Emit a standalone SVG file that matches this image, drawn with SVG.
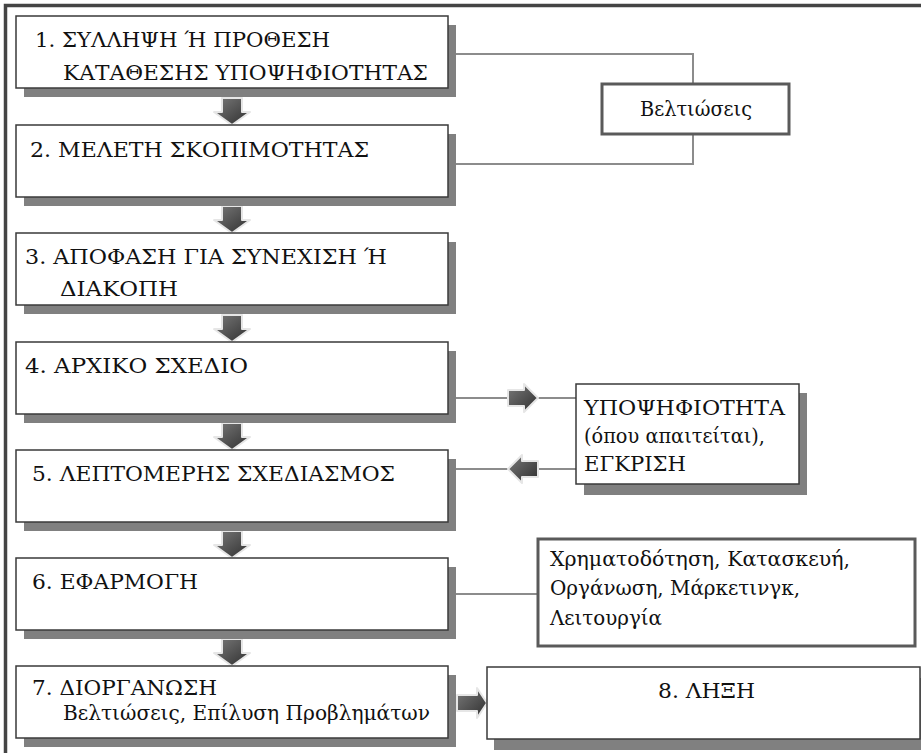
<svg xmlns="http://www.w3.org/2000/svg" width="921" height="753" viewBox="0 0 921 753">
<defs>
<linearGradient id="gv" x1="0" y1="0" x2="1" y2="1">
<stop offset="0" stop-color="#7a7a7a"/>
<stop offset="1" stop-color="#2e2e2e"/>
</linearGradient>
<style>
text{font-family:'DejaVu Serif','Liberation Serif','Times New Roman',serif;font-size:21px;fill:#111}
.box{fill:#fff;stroke:#3a3a3a;stroke-width:1.5}
.shd{fill:#808080}
.tbox{fill:#fff;stroke:#5a5a5a;stroke-width:3}
.con{fill:none;stroke:#8c8c8c;stroke-width:2}
.arr{fill:url(#gv);stroke:#e6e6e6;stroke-width:2;stroke-linejoin:round}
.frame{fill:none;stroke:#444;stroke-width:3.5}
</style>
</defs>
<rect width="921" height="753" fill="#fff"/>
<path class="frame" d="M5.5 753 V5.5 H921"/>

<g id="connectors">
<path class="con" d="M448 54 H693 V84"/>
<path class="con" d="M693 134 V164 H448"/>
<path class="con" d="M448 398 H576"/>
<path class="con" d="M448 469 H576"/>
<path class="con" d="M448 594 H538"/>
<path class="arr" d="M222 98 H242 V112 H250 L232 125 L214 112 H222 Z"/>
<path class="arr" d="M222 206 H242 V220 H250 L232 233 L214 220 H222 Z"/>
<path class="arr" d="M222 315 H242 V329 H250 L232 342 L214 329 H222 Z"/>
<path class="arr" d="M222 423 H242 V437 H250 L232 450 L214 437 H222 Z"/>
<path class="arr" d="M222 531 H242 V545 H250 L232 558 L214 545 H222 Z"/>
<path class="arr" d="M222 639 H242 V653 H250 L232 666 L214 653 H222 Z"/>
<path class="arr" d="M508 390 H524 V384 L538 398 L524 412 V406 H508 Z"/>
<path class="arr" d="M538 461 H522 V455 L508 469 L522 483 V477 H538 Z"/>
<path class="arr" d="M457 695 H477 V688 L487 703 L477 718 V711 H457 Z"/>
</g>

<g id="n1">
<rect class="shd" x="24" y="25" width="432" height="72"/>
<rect class="box" x="16" y="16" width="432" height="72"/>
<text x="35" y="47" textLength="295" lengthAdjust="spacingAndGlyphs">1. ΣΥΛΛΗΨΗ Ή ΠΡΟΘΕΣΗ</text>
<text x="63" y="80" textLength="365" lengthAdjust="spacingAndGlyphs">ΚΑΤΑΘΕΣΗΣ ΥΠΟΨΗΦΙΟΤΗΤΑΣ</text>
</g>
<g id="n2">
<rect class="shd" x="24" y="134" width="432" height="72"/>
<rect class="box" x="16" y="125" width="432" height="72"/>
<text x="30" y="157" textLength="339" lengthAdjust="spacingAndGlyphs">2. ΜΕΛΕΤΗ ΣΚΟΠΙΜΟΤΗΤΑΣ</text>
</g>
<g id="n3">
<rect class="shd" x="24" y="242" width="432" height="72"/>
<rect class="box" x="16" y="233" width="432" height="72"/>
<text x="25" y="264" textLength="362" lengthAdjust="spacingAndGlyphs">3. ΑΠΟΦΑΣΗ ΓΙΑ ΣΥΝΕΧΙΣΗ Ή</text>
<text x="60" y="296" textLength="118" lengthAdjust="spacingAndGlyphs">ΔΙΑΚΟΠΗ</text>
</g>
<g id="n4">
<rect class="shd" x="24" y="351" width="432" height="72"/>
<rect class="box" x="16" y="342" width="432" height="72"/>
<text x="25" y="373" textLength="223" lengthAdjust="spacingAndGlyphs">4. ΑΡΧΙΚΟ ΣΧΕΔΙΟ</text>
</g>
<g id="n5">
<rect class="shd" x="24" y="459" width="432" height="72"/>
<rect class="box" x="16" y="450" width="432" height="72"/>
<text x="32" y="481" textLength="363" lengthAdjust="spacingAndGlyphs">5. ΛΕΠΤΟΜΕΡΗΣ ΣΧΕΔΙΑΣΜΟΣ</text>
</g>
<g id="n6">
<rect class="shd" x="24" y="567" width="432" height="72"/>
<rect class="box" x="16" y="558" width="432" height="72"/>
<text x="32" y="589" textLength="166" lengthAdjust="spacingAndGlyphs">6. ΕΦΑΡΜΟΓΗ</text>
</g>
<g id="n7">
<rect class="shd" x="24" y="675" width="432" height="72"/>
<rect class="box" x="16" y="666" width="432" height="72"/>
<text x="32" y="695" textLength="185" lengthAdjust="spacingAndGlyphs">7. ΔΙΟΡΓΑΝΩΣΗ</text>
<text x="63" y="720" textLength="367" lengthAdjust="spacingAndGlyphs">Βελτιώσεις, Επίλυση Προβλημάτων</text>
</g>
<g id="n8">
<rect class="shd" x="494" y="678" width="430" height="72"/>
<rect class="box" x="487" y="667" width="433" height="72"/>
<text x="658" y="698" textLength="97" lengthAdjust="spacingAndGlyphs">8. ΛΗΞΗ</text>
</g>
<g id="improvements">
<rect class="tbox" x="602" y="84" width="187" height="50"/>
<text x="640" y="116" textLength="112" lengthAdjust="spacingAndGlyphs">Βελτιώσεις</text>
</g>
<g id="approval">
<rect class="shd" x="584" y="393" width="223" height="102"/>
<rect class="box" x="576" y="384" width="223" height="100"/>
<text x="584" y="415" textLength="201" lengthAdjust="spacingAndGlyphs">ΥΠΟΨΗΦΙΟΤΗΤΑ</text>
<text x="584" y="443" textLength="181" lengthAdjust="spacingAndGlyphs">(όπου απαιτείται),</text>
<text x="584" y="471" textLength="102" lengthAdjust="spacingAndGlyphs">ΕΓΚΡΙΣΗ</text>
</g>
<g id="implementation">
<rect class="tbox" x="538" y="539" width="377" height="107"/>
<text x="550" y="566" textLength="300" lengthAdjust="spacingAndGlyphs">Χρηματοδότηση, Κατασκευή,</text>
<text x="550" y="595" textLength="250" lengthAdjust="spacingAndGlyphs">Οργάνωση, Μάρκετινγκ,</text>
<text x="550" y="625" textLength="112" lengthAdjust="spacingAndGlyphs">Λειτουργία</text>
</g>
</svg>
